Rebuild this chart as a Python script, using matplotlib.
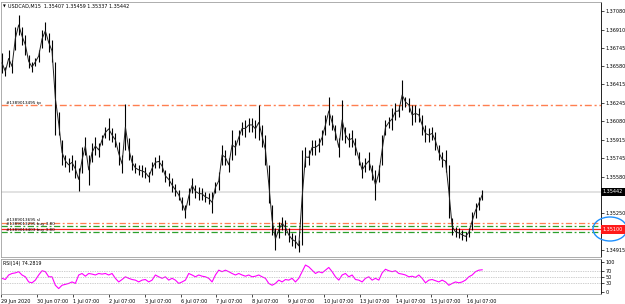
import matplotlib
matplotlib.use('Agg')
import matplotlib.pyplot as plt
import numpy as np
from matplotlib.patches import Ellipse

W, H = 625, 304

# USDCAD M15, high/low every 2h15m (10.75 samples per trading day)
samples_per_day = 10.75

high = [1.36700, 1.36573, 1.36727, 1.36636, 1.36935, 1.37044, 1.36935, 1.36863, 1.36682, 1.36618,
        1.36655, 1.36727, 1.36908, 1.36981, 1.36881, 1.36818, 1.36618, 1.36165, 1.35912, 1.35776,
        1.35749, 1.35776, 1.35730, 1.35658, 1.35848, 1.35939, 1.35776, 1.35884, 1.35939, 1.35884,
        1.35957, 1.36029, 1.36111, 1.36020, 1.35975, 1.35893, 1.35776, 1.36238, 1.35930, 1.35776,
        1.35703, 1.35685, 1.35685, 1.35667, 1.35622, 1.35712, 1.35758, 1.35776, 1.35730, 1.35640,
        1.35613, 1.35567, 1.35513, 1.35459, 1.35395, 1.35323, 1.35477, 1.35567, 1.35504, 1.35486,
        1.35477, 1.35440, 1.35431, 1.35440, 1.35531, 1.35622, 1.35866, 1.35821, 1.35749, 1.36002,
        1.35912, 1.36002, 1.36075, 1.36093, 1.36111, 1.36111, 1.36093, 1.36229, 1.36047, 1.35957,
        1.35685, 1.35323, 1.35114, 1.35169, 1.35214, 1.35187, 1.35114, 1.35069, 1.35051, 1.35006,
        1.35821, 1.35848, 1.35821, 1.35912, 1.35912, 1.35930, 1.36002, 1.36138, 1.36301, 1.36138,
        1.36047, 1.35930, 1.36274, 1.36029, 1.35975, 1.36002, 1.35930, 1.35803, 1.35712, 1.35749,
        1.35803, 1.35685, 1.35640, 1.35685, 1.35957, 1.36093, 1.36120, 1.36202, 1.36247, 1.36229,
        1.36455, 1.36301, 1.36292, 1.36229, 1.36229, 1.36202, 1.36138, 1.36047, 1.36020, 1.36029,
        1.35984, 1.35866, 1.35803, 1.35821, 1.35685, 1.35205, 1.35123, 1.35114, 1.35096, 1.35078,
        1.35114, 1.35259, 1.35341, 1.35395, 1.35459]

low = [1.36519, 1.36491, 1.36573, 1.36519, 1.36727, 1.36863, 1.36772, 1.36682, 1.36564, 1.36528,
       1.36582, 1.36618, 1.36745, 1.36818, 1.36709, 1.36618, 1.35957, 1.35957, 1.35685, 1.35667,
       1.35622, 1.35640, 1.35567, 1.35450, 1.35613, 1.35776, 1.35504, 1.35712, 1.35776, 1.35758,
       1.35866, 1.35930, 1.35912, 1.35893, 1.35848, 1.35685, 1.35613, 1.35821, 1.35730, 1.35640,
       1.35613, 1.35595, 1.35576, 1.35567, 1.35531, 1.35595, 1.35658, 1.35658, 1.35622, 1.35531,
       1.35495, 1.35440, 1.35404, 1.35368, 1.35277, 1.35205, 1.35323, 1.35431, 1.35386, 1.35368,
       1.35368, 1.35350, 1.35332, 1.35250, 1.35431, 1.35459, 1.35685, 1.35685, 1.35622, 1.35730,
       1.35776, 1.35866, 1.35957, 1.35939, 1.35984, 1.35984, 1.35930, 1.35912, 1.35848, 1.35685,
       1.35341, 1.35051, 1.34915, 1.35024, 1.35096, 1.35051, 1.34987, 1.34951, 1.34933, 1.34897,
       1.34960, 1.35667, 1.35685, 1.35776, 1.35776, 1.35803, 1.35866, 1.35957, 1.36047, 1.36002,
       1.35912, 1.35758, 1.35912, 1.35884, 1.35848, 1.35848, 1.35776, 1.35685, 1.35567, 1.35622,
       1.35640, 1.35549, 1.35368, 1.35531, 1.35685, 1.35957, 1.36020, 1.36002, 1.36093, 1.36120,
       1.36183, 1.36211, 1.36165, 1.36047, 1.36075, 1.36075, 1.35957, 1.35893, 1.35893, 1.35912,
       1.35821, 1.35730, 1.35667, 1.35622, 1.35205, 1.35051, 1.35033, 1.35024, 1.35006, 1.34996,
       1.35033, 1.35096, 1.35205, 1.35277, 1.35368]

rsi = [46, 42, 57, 62, 64, 68, 57, 51, 34, 31, 40, 57, 71, 68, 51, 51, 23, 12, 23, 26,
       29, 34, 29, 57, 62, 53, 62, 60, 57, 62, 60, 62, 57, 62, 46, 34, 42, 51, 46, 42,
       40, 34, 40, 42, 34, 40, 57, 51, 46, 51, 40, 46, 40, 29, 34, 40, 62, 57, 51, 57,
       53, 51, 46, 34, 57, 73, 68, 73, 68, 62, 57, 62, 57, 53, 57, 51, 53, 57, 51, 46,
       29, 23, 29, 40, 34, 42, 40, 46, 34, 46, 68, 90, 84, 73, 62, 68, 64, 73, 82, 68,
       51, 40, 57, 62, 51, 57, 42, 40, 34, 46, 51, 40, 46, 40, 64, 76, 71, 68, 71, 62,
       60, 57, 51, 53, 49, 57, 46, 31, 40, 42, 38, 34, 40, 34, 23, 29, 34, 31, 34, 40,
       51, 57, 68, 73, 74.28]

day_labels = ['29 Jun 2020', '30 Jun 07:00', '1 Jul 07:00', '2 Jul 07:00', '3 Jul 07:00',
              '6 Jul 07:00', '7 Jul 07:00', '8 Jul 07:00', '9 Jul 07:00', '10 Jul 07:00',
              '13 Jul 07:00', '14 Jul 07:00', '15 Jul 07:00', '16 Jul 07:00']
# 1.35415 and 1.35085 sit under the price boxes and are not visible
price_ticks = [1.37080, 1.36910, 1.36745, 1.36580, 1.36415, 1.36245, 1.36080, 1.35915,
               1.35745, 1.35580, 1.35250, 1.34915]
rsi_ticks = [100, 70, 50, 30, 0]
rsi_levels = [70, 50, 30]

ohlc = [1.35407, 1.35459, 1.35337, 1.35442]
rsi_last = 74.2819
tp_level = 1.36228
sl_level = 1.35159
buy_levels = [1.35131, 1.35077]
ask_level = 1.35100
bid_level = 1.35442
tp_label = '#1389013495 tp'
sl_label = '#1389013695 sl'
buy_labels = ['#1389013295 buy 3.80', '#1389013403 buy 3.80']

t = np.arange(len(high)) / samples_per_day
mid = (np.array(high) + np.array(low)) / 2

plt.rcParams['font.family'] = 'DejaVu Sans'
fig = plt.figure(figsize=(W / 100, H / 100), dpi=100)


def px_axes(x0, y0, x1, y1):
    return fig.add_axes([x0 / W, 1 - y1 / H, (x1 - x0) / W, (y1 - y0) / H])


ax = px_axes(1, 2, 601, 257)
ax2 = px_axes(1, 259, 601, 294)
xlim = (-0.028, 16.71)

# main price panel
ax.axhline(bid_level, color='#e2e2e2', lw=1.4, zorder=1)
ax.vlines(t, low, high, color='black', lw=0.8, zorder=3)
ax.plot(t, mid, color='#202020', lw=0.7, zorder=3)

dashdot = (0, (5, 2, 1.5, 2))
orange = '#ff7f50'
green = '#2ca02c'
ax.axhline(tp_level, color=orange, lw=1.0, ls=dashdot, zorder=2)
ax.axhline(sl_level, color=orange, lw=0.9, ls=dashdot, zorder=2)
for lvl in buy_levels:
    ax.axhline(lvl, color=green, lw=0.9, ls=dashdot, zorder=2)
ax.axhline(ask_level, color='#ff2020', lw=0.9, zorder=2)

txt = dict(fontsize=3.0, color='black', ha='left', va='bottom')
ax.text(0.12, tp_level + 0.00003, tp_label, **txt)
ax.text(0.12, sl_level + 0.00005, sl_label, **txt)
ax.text(0.12, buy_levels[0] - 0.00003, buy_labels[0], **txt)
ax.text(0.12, buy_levels[1] - 0.00003, buy_labels[1], **txt)

ax.set_xlim(*xlim)
ax.set_ylim(1.348505, 1.371616)
ax.set_xticks([])
ax.yaxis.tick_right()
ax.set_yticks(price_ticks)
ax.set_yticklabels(['%.5f' % p for p in price_ticks])
ax.tick_params(axis='y', labelsize=3.5, length=2, width=0.5, pad=1.5, colors='black')
for s in ['left', 'top', 'bottom']:
    ax.spines[s].set_color('#a0a0a0')
    ax.spines[s].set_linewidth(0.6)
ax.spines['right'].set_color('black')
ax.spines['right'].set_linewidth(0.6)

box = dict(fontsize=3.5, ha='left', va='center', color='white', transform=ax.get_yaxis_transform(), zorder=10, clip_on=False)
ax.text(1.003, bid_level, '%.5f' % bid_level, bbox=dict(boxstyle='square,pad=0.35', fc='black', ec='none'), **box)
ax.text(1.003, ask_level, '%.5f' % ask_level, bbox=dict(boxstyle='square,pad=0.35', fc='#ff1a1a', ec='none'), **box)

fig.text(3 / W, 1 - 6 / H, '\u25bc', fontsize=2.6, va='center', ha='left')
fig.text(8 / W, 1 - 6 / H, 'USDCAD,M15  ' + ' '.join('%.5f' % v for v in ohlc), fontsize=3.5, va='center', ha='left')

# RSI panel
ax2.plot(t, rsi, color='#ff00ff', lw=0.8)
for lvl in rsi_levels:
    ax2.axhline(lvl, color='#a0a0a0', lw=0.5, ls=(0, (1, 1.5)))
ax2.set_xlim(*xlim)
ax2.set_ylim(-6, 110)
ax2.yaxis.tick_right()
ax2.set_yticks(rsi_ticks)
ax2.set_yticklabels([str(v) for v in rsi_ticks])
ax2.tick_params(axis='y', labelsize=3.5, length=2, width=0.5, pad=1.5)
ax2.set_xticks(np.arange(len(day_labels)) - 0.02)
ax2.set_xticklabels(day_labels, ha='left')
ax2.tick_params(axis='x', labelsize=3.5, length=2, width=0.5, pad=1.5)
for s in ['left', 'top', 'bottom']:
    ax2.spines[s].set_color('#a0a0a0')
    ax2.spines[s].set_linewidth(0.6)
ax2.spines['right'].set_color('black')
ax2.spines['right'].set_linewidth(0.6)
ax2.text(0.004, 0.86, 'RSI(14) %.4f' % rsi_last, transform=ax2.transAxes, fontsize=3.4, va='center', ha='left')

# highlight around the red price label
fig.add_artist(Ellipse((610 / W, 1 - 229 / H), 34 / W, 24 / H, transform=fig.transFigure,
                       fill=False, ec='#1e90ff', lw=1.0))

fig.savefig('out.png', dpi=100)
